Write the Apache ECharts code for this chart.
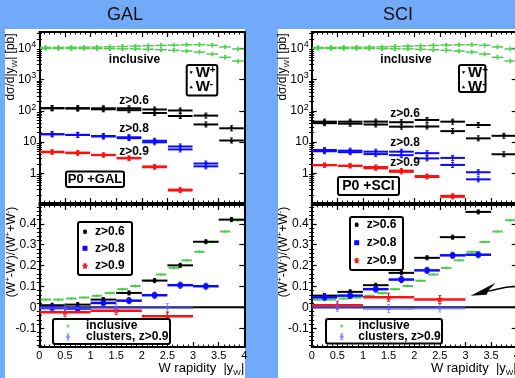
<!DOCTYPE html>
<html><head><meta charset="utf-8">
<script src="https://cdn.jsdelivr.net/npm/echarts@6/dist/echarts.min.js"></script>
<style>html,body{margin:0;padding:0;background:#70aaf8;overflow:hidden}#c{width:515px;height:378px}</style>
</head><body><div id="c"></div>
<script>
const FONT = '"Liberation Sans", Arial, Helvetica, sans-serif';

// ---------------- data ----------------
const edgesFine = [0,0.25,0.5,0.75,1,1.25,1.5,1.75,2,2.25,2.5,2.75,3,3.25,3.5,3.75,4];
const edgesHalf = [0,0.5,1,1.5,2,2.5,3,3.5,4];
const edgesOne  = [0,1,2,3];
const edgesFull = [0,4];

// inclusive (same in both panels)
const incWp = [10600,10600,10700,10800,10900,11100,11400,11700,12000,12300,12600,12900,13000,12500,11000,9500];
const incWm = [9850,9850,9830,9830,9770,9690,9580,9540,9300,8970,8590,8170,7540,6540,5140,3900];
const incA  = [0.037,0.037,0.042,0.047,0.055,0.068,0.087,0.102,0.127,0.157,0.189,0.225,0.266,0.313,0.363,0.417];

// GAL
const galZ06Wp = [122,121,120,120,110,102,70,27.5];
const galZ06Wm = [119.6,117.9,111.4,104.5,85,68,36.5,11.2];
const galZ08Wp = [17.7,16.8,15.6,14.2,11.0,7.2,2.05,null];
const galZ08Wm = [17.8,17.0,15.0,13.3,9.8,5.8,1.67,null];
const galZ09Wp = [4.7,4.4,3.8,3.0,1.56,0.28,null,null];
const galZ09Wm = [4.9,4.6,3.9,3.1,1.66,0.30,null,null];
const galZ06A = [0.010,0.013,0.037,0.069,0.128,0.201,0.314,0.420];
const galZ08A = [-0.003,-0.006,0.021,0.032,0.058,0.106,0.101,null];
const galZ09A = [-0.024,-0.016,-0.043];
const galClA  = [-0.003,-0.002,-0.001];

// SCI
const sciZ06Wp = [44.8,44.8,45,43,50.8,44.8,35.1,15.8];
const sciZ06Wm = [40.1,38.6,36.4,31,31.4,22.3,13.1,4.06];
const sciZ08Wp = [5.57,5.29,4.91,4.91,4.4,3.1,1.08,null];
const sciZ08Wm = [5.06,4.73,4.11,3.8,3.0,1.85,0.64,null];
const sciZ09Wp = [1.84,1.75,1.59,1.22,0.82,0.19,null,null];
const sciZ09Wm = [1.80,1.72,1.45,1.11,0.76,0.176,null,null];
const sciZ06A = [0.056,0.074,0.106,0.165,0.237,0.336,0.457,null];
const sciZ08A = [0.048,0.056,0.087,0.133,0.177,0.249,0.252,null];
const sciZ09A = [0.010,0.048,0.037];
const sciClA  = [0.000,-0.006,-0.003];

const zeroLine = [0];

// tick labels
const asymTicks = [-0.1,0,0.1,0.2,0.3,0.4];
const LOG_MIN = 0.112, LOG_MAX = 33100;
const ASYM_MIN = -0.19, ASYM_MAX = 0.49;

// ---------------- styling helpers ----------------
const K = '#000000', B = '#0a0aff', R = '#ff1010', G = '#4fcc4f', P = 'rgba(90,90,255,0.6)';

const asymMinor = [];
for (let i = -9; i <= 24; i++) { if (i % 5 !== 0) asymMinor.push(+(i * 0.02).toFixed(2)); }
const logMinor = [];
for (let d = -1; d <= 4; d++) for (let k = 2; k <= 9; k++) {
  const l = d + Math.log10(k);
  if (l > Math.log10(LOG_MIN) && l < Math.log10(LOG_MAX)) logMinor.push(l);
}

const grids = [
  {left: 39.3, top: 32, width: 205, height: 171},
  {left: 39.3, top: 205, width: 205, height: 142},
  {left: 311.7, top: 32, width: 205, height: 171},
  {left: 311.7, top: 205, width: 205, height: 142}
].map(g => Object.assign(g, {containLabel: false, outerBoundsMode: 'none'}));

const tickLS = {color: '#000', width: 1.2};
function xAx(gi, pos, labels) {
  return {type: 'value', gridIndex: gi, position: pos, min: 0, max: 4, interval: 0.5,
    axisLine: {show: true, onZero: false, lineStyle: {color: '#000', width: 2}},
    axisTick: {show: true, inside: true, length: 5, lineStyle: tickLS},
    minorTick: {show: true, splitNumber: 5, length: 2.5, lineStyle: {color: '#000', width: 1}},
    splitLine: {show: false}, minorSplitLine: {show: false},
    axisLabel: {show: labels, fontSize: 11, color: '#000', margin: 3, fontFamily: FONT,
      showMinLabel: true, showMaxLabel: true, hideOverlap: false},
    axisPointer: {show: false}, silent: true};
}
function yLog(gi, pos, labels) {
  return {type: 'log', logBase: 10, gridIndex: gi, position: pos, min: LOG_MIN, max: LOG_MAX,
    axisLine: {show: true, onZero: false, lineStyle: {color: '#000', width: 2}},
    axisTick: {show: true, inside: true, length: 5, lineStyle: tickLS},
    splitLine: {show: false}, minorTick: {show: false},
    axisLabel: {show: labels, showMinLabel: false, showMaxLabel: false, margin: 3, hideOverlap: false,
      formatter: v => { const e = Math.round(Math.log10(v)); if (e === 0) return '{b|1}'; if (e === 1) return '{b|10}'; return '{b|10}{p|' + e + '}'; },
      rich: {b: {fontSize: 12, color: '#000', fontFamily: FONT, lineHeight: 16},
             p: {fontSize: 9, color: '#000', fontFamily: FONT, lineHeight: 9, verticalAlign: 'top'}}},
    axisPointer: {show: false}, silent: true};
}
function yLogMinor(gi, pos) {
  return {type: 'value', gridIndex: gi, position: pos, min: Math.log10(LOG_MIN), max: Math.log10(LOG_MAX),
    axisLine: {show: false}, axisLabel: {show: false}, splitLine: {show: false},
    axisTick: {show: true, inside: true, length: 2.5, customValues: logMinor, lineStyle: {color: '#000', width: 1}},
    axisPointer: {show: false}, silent: true};
}
function yLin(gi, pos, labels) {
  return {type: 'value', gridIndex: gi, position: pos, min: ASYM_MIN, max: ASYM_MAX,
    axisLine: {show: true, onZero: false, lineStyle: {color: '#000', width: 2}},
    axisTick: {show: true, inside: true, length: 5, customValues: asymTicks, lineStyle: tickLS},
    splitLine: {show: false},
    axisLabel: {show: labels, customValues: asymTicks, fontSize: 12, color: '#000', margin: 3, fontFamily: FONT, hideOverlap: false},
    axisPointer: {show: false}, silent: true};
}
function yLinMinor(gi, pos) {
  return {type: 'value', gridIndex: gi, position: pos, min: ASYM_MIN, max: ASYM_MAX,
    axisLine: {show: false}, axisLabel: {show: false}, splitLine: {show: false},
    axisTick: {show: true, inside: true, length: 2.5, customValues: asymMinor, lineStyle: {color: '#000', width: 1}},
    axisPointer: {show: false}, silent: true};
}

const xAxis = [], yAxis = [], axIdx = [];
grids.forEach((g, gi) => {
  const isTop = gi % 2 === 0;
  const xi = xAxis.length;
  xAxis.push(xAx(gi, 'bottom', !isTop));
  xAxis.push(xAx(gi, 'top', false));
  const yi = yAxis.length;
  if (isTop) {
    yAxis.push(yLog(gi, 'left', true), yLogMinor(gi, 'left'), yLog(gi, 'right', false), yLogMinor(gi, 'right'));
  } else {
    yAxis.push(yLin(gi, 'left', true), yLinMinor(gi, 'left'), yLin(gi, 'right', false), yLinMinor(gi, 'right'));
  }
  axIdx.push({x: xi, y: yi});
});

function starPts(cx, cy, r) {
  const pts = [];
  for (let i = 0; i < 10; i++) {
    const rr = i % 2 ? r * 0.45 : r;
    const a = -Math.PI / 2 + i * Math.PI / 5;
    pts.push([cx + rr * Math.cos(a), cy + rr * Math.sin(a)]);
  }
  return pts;
}
function marker(kind, cx, cy, s, color) {
  switch (kind) {
    case 'tdown': return {type: 'polygon', shape: {points: [[cx - s, cy - s * 0.8], [cx + s, cy - s * 0.8], [cx, cy + s * 0.9]]}, style: {fill: color}};
    case 'tup': return {type: 'polygon', shape: {points: [[cx - s, cy + s * 0.8], [cx + s, cy + s * 0.8], [cx, cy - s * 0.9]]}, style: {fill: color}};
    case 'circle': return {type: 'circle', shape: {cx: cx, cy: cy, r: s}, style: {fill: color}};
    case 'square': return {type: 'rect', shape: {x: cx - s, y: cy - s, width: 2 * s, height: 2 * s}, style: {fill: color}};
    case 'star': return {type: 'polygon', shape: {points: starPts(cx, cy, s)}, style: {fill: color}};
    case 'diamond': return {type: 'polygon', shape: {points: [[cx - s, cy], [cx, cy - s], [cx + s, cy], [cx, cy + s]]}, style: {fill: color}};
    case 'plus': return {type: 'group', children: [
      {type: 'line', shape: {x1: cx - s, y1: cy, x2: cx + s, y2: cy}, style: {stroke: color, lineWidth: 1}},
      {type: 'line', shape: {x1: cx, y1: cy - s, x2: cx, y2: cy + s}, style: {stroke: color, lineWidth: 1}}]};
  }
  return {type: 'group', children: []};
}
function errbar(cx, cy, e, color, cap) {
  const c = cap === undefined ? 1.5 : cap;
  return {type: 'group', children: [
    {type: 'line', shape: {x1: cx, y1: cy - e, x2: cx, y2: cy + e}, style: {stroke: color, lineWidth: 1}},
    {type: 'line', shape: {x1: cx - c, y1: cy - e, x2: cx + c, y2: cy - e}, style: {stroke: color, lineWidth: 1}},
    {type: 'line', shape: {x1: cx - c, y1: cy + e, x2: cx + c, y2: cy + e}, style: {stroke: color, lineWidth: 1}}]};
}
function bins(gi, edges, vals, st) {
  const data = [];
  vals.forEach((v, i) => { if (v !== null) data.push([edges[i], edges[i + 1], v]); });
  return {type: 'custom', xAxisIndex: axIdx[gi].x, yAxisIndex: axIdx[gi].y, data: data,
    encode: {x: [0, 1], y: 2}, silent: true, z: st.z || 3,
    renderItem: function (params, api) {
      const a = api.coord([api.value(0), api.value(2)]);
      const b = api.coord([api.value(1), api.value(2)]);
      const cx = (a[0] + b[0]) / 2, cy = a[1], g = st.gap || 0;
      const ch = [{type: 'line', shape: {x1: a[0] + g, y1: cy, x2: b[0] - g, y2: cy},
        style: {stroke: st.color, lineWidth: st.lw}}];
      if (st.err) ch.push(errbar(cx, cy, st.err, st.color, st.cap));
      if (st.marker) ch.push(marker(st.marker, cx, cy, st.msize, st.color));
      return {type: 'group', children: ch};
    }};
}

function topSeries(gi, z6p, z6m, z8p, z8m, z9p, z9m) {
  return [
    bins(gi, edgesFine, incWp, {color: G, lw: 1.5, gap: 0.6, marker: 'tdown', msize: 1.3, err: 1.8, cap: 1}),
    bins(gi, edgesFine, incWm, {color: G, lw: 1.5, gap: 0.6, marker: 'tup', msize: 1.3, err: 1.8, cap: 1}),
    bins(gi, edgesHalf, z6p, {color: K, lw: 2, gap: 0.5, marker: 'tdown', msize: 1.8, err: 2.5}),
    bins(gi, edgesHalf, z6m, {color: K, lw: 2, gap: 0.5, marker: 'tup', msize: 1.8, err: 2.5}),
    bins(gi, edgesHalf, z8p, {color: B, lw: 2, gap: 0.5, marker: 'tdown', msize: 1.8, err: 2.5}),
    bins(gi, edgesHalf, z8m, {color: B, lw: 2, gap: 0.5, marker: 'tup', msize: 1.8, err: 2.5}),
    bins(gi, edgesHalf, z9p, {color: R, lw: 2, gap: 0.5, marker: 'tdown', msize: 1.8, err: 2}),
    bins(gi, edgesHalf, z9m, {color: R, lw: 2, gap: 0.5, marker: 'tup', msize: 1.8, err: 2})
  ];
}
function botSeries(gi, a6, a8, a9, acl) {
  return [
    bins(gi, edgesFull, zeroLine, {color: K, lw: 2}),
    bins(gi, edgesFine, incA, {color: G, lw: 2, gap: 1.2, marker: 'plus', msize: 1.6}),
    bins(gi, edgesHalf, a6, {color: K, lw: 2, marker: 'circle', msize: 2, err: 2}),
    bins(gi, edgesHalf, a8, {color: B, lw: 2.5, marker: 'square', msize: 2.5, err: 3}),
    bins(gi, edgesOne, a9, {color: R, lw: 2.5, marker: 'star', msize: 3.5, err: 4}),
    bins(gi, edgesOne, acl, {color: P, lw: 3, marker: 'diamond', msize: 2.5, err: 4})
  ];
}

const series = [].concat(
  topSeries(0, galZ06Wp, galZ06Wm, galZ08Wp, galZ08Wm, galZ09Wp, galZ09Wm),
  botSeries(1, galZ06A, galZ08A, galZ09A, galClA),
  topSeries(2, sciZ06Wp, sciZ06Wm, sciZ08Wp, sciZ08Wm, sciZ09Wp, sciZ09Wm),
  botSeries(3, sciZ06A, sciZ08A, sciZ09A, sciClA)
);

// ---------------- annotations ----------------
const richA = {
  a: {fontSize: 12, fontFamily: FONT, fill: '#000', lineHeight: 16},
  s: {fontSize: 8, fontFamily: FONT, fill: '#000', lineHeight: 8, verticalAlign: 'bottom'},
  p: {fontSize: 8, fontFamily: FONT, fill: '#000', lineHeight: 8, verticalAlign: 'top'},
  x: {fontSize: 13, fontFamily: FONT, fill: '#000', lineHeight: 17},
  w: {fontSize: 15, fontFamily: FONT, fontWeight: 'bold', fill: '#000', lineHeight: 16},
  q: {fontSize: 10, fontFamily: FONT, fontWeight: 'bold', fill: '#000', lineHeight: 9, verticalAlign: 'top'}
};
function setZ(el, z) {
  el.z = z;
  if (el.children) el.children.forEach(c => setZ(c, z));
  return el;
}
function txt(x, y, text, size, opts) {
  opts = opts || {};
  return {type: 'text', x: x, y: y, rotation: opts.rot || 0, z: 102,
    style: {text: text, fontSize: size, fontFamily: FONT, fontWeight: opts.bold ? 'bold' : 'normal',
      fill: opts.color || '#000', align: opts.align || 'center', verticalAlign: 'middle', rich: richA}};
}
function box(x, y, w, h) {
  return {type: 'rect', z: 100, shape: {x: x, y: y, width: w, height: h, r: 2},
    style: {fill: '#fff', stroke: '#000', lineWidth: 2}};
}
function gm(kind, cx, cy, s, color, err) {
  const els = [];
  if (err) els.push(errbar(cx, cy, err, color));
  els.push(marker(kind, cx, cy, s, color));
  return setZ({type: 'group', children: els}, 101);
}
const yLabTop = '{a|dσ/d|y}{s|W}{a|| [pb]}';
const yLabBot = '{a|(W}{p|+}{a|-W}{p|-}{a|)/(W}{p|+}{a|+W}{p|-}{a|)}';
const xLab = '{x|W rapidity  |y}{s|W}{x||}';

function panelGraphics(o) {
  return [
    {type: 'rect', z: -10, shape: {x: o.bgx, y: 29, width: 240, height: 349}, style: {fill: '#fff'}},
    txt(o.tx, 15, o.title, 18, {color: '#111'}),
    txt(o.yl, 67, yLabTop, 12, {rot: Math.PI / 2}),
    txt(o.yl + 1, 252, yLabBot, 12, {rot: Math.PI / 2}),
    txt(o.xr, 368, xLab, 13, {align: 'right'}),
    txt(o.inc[0], o.inc[1], 'inclusive', 12, {bold: true}),
    txt(o.z6[0], o.z6[1], 'z>0.6', 12, {bold: true}),
    txt(o.z8[0], o.z8[1], 'z>0.8', 12, {bold: true}),
    txt(o.z9[0], o.z9[1], 'z>0.9', 12, {bold: true}),
    // W+/W- box
    box(o.wb[0], o.wb[1], o.wb[2], o.wb[3]),
    gm('tdown', o.wb[0] + 4.5, o.wb[1] + 7.5, 1.7, '#000'),
    gm('tup', o.wb[0] + 4.5, o.wb[1] + 22, 1.7, '#000'),
    txt(o.wb[0] + 9, o.wb[1] + 8, '{w|W}{q|+}', 15, {align: 'left', bold: true}),
    txt(o.wb[0] + 9, o.wb[1] + 22, '{w|W}{q|-}', 15, {align: 'left', bold: true}),
    // P0 box
    box(o.pb[0], o.pb[1], o.pb[2], o.pb[3]),
    txt(o.pb[0] + o.pb[2] / 2, o.pb[1] + o.pb[3] / 2 + 0.5, o.ptxt, o.psize, {bold: true}),
    // bottom legend 1
    box(o.l1[0], o.l1[1], o.l1[2], o.l1[3]),
    gm('circle', o.l1m, o.l1r[0], 2, K, 1.5),
    gm('square', o.l1m, o.l1r[1], 2.5, B),
    gm('star', o.l1m, o.l1r[2], 3.5, R, 2),
    txt(o.l1t, o.l1r[0], 'z>0.6', 12, {bold: true, align: 'left'}),
    txt(o.l1t, o.l1r[1], 'z>0.8', 12, {bold: true, align: 'left'}),
    txt(o.l1t, o.l1r[2], 'z>0.9', 12, {bold: true, align: 'left'}),
    // bottom legend 2
    box(o.l2[0], o.l2[1], o.l2[2], o.l2[3]),
    gm('plus', o.l2m, o.l2r[0], 1.8, G),
    gm('diamond', o.l2m, o.l2r[1], 2.5, P, 3),
    txt(o.l2t, o.l2r[0], 'inclusive', 12, {bold: true, align: 'left'}),
    txt(o.l2t, o.l2r[1], 'clusters, z>0.9', 12, {bold: true, align: 'left'})
  ];
}

const gal = {bgx: 5, tx: 125, title: 'GAL', yl: 11, xr: 244.3,
  inc: [134.5, 60], z6: [134, 101], z8: [134, 129], z9: [134, 152],
  wb: [186.7, 65, 30.6, 30.5], pb: [66, 171.5, 58, 15.5], ptxt: 'P0 +GAL', psize: 13,
  l1: [78, 222, 54, 53], l1m: 85, l1t: 95, l1r: [231.7, 248.3, 266],
  l2: [53, 319, 117, 25], l2m: 68, l2t: 86, l2r: [326, 337]};
const sci = {bgx: 278, tx: 398, title: 'SCI', yl: 283, xr: 516.7,
  inc: [406, 60], z6: [405, 114], z8: [405, 143], z9: [405, 163],
  wb: [459, 65, 26.5, 27], pb: [338, 177, 61, 18], ptxt: 'P0 +SCI', psize: 14,
  l1: [350, 217, 53, 53], l1m: 356.7, l1t: 366.7, l1r: [224.7, 242.7, 260.7],
  l2: [326, 319, 116, 24.5], l2m: 341.7, l2t: 358.3, l2r: [326, 336.7]};

const chart = echarts.init(document.getElementById('c'), null, {renderer: 'canvas', width: 515, height: 378});
chart.setOption({
  animation: false,
  backgroundColor: '#70aaf8',
  textStyle: {fontFamily: FONT},
  grid: grids, xAxis: xAxis, yAxis: yAxis, series: series
});

// arrow annotation in SCI lower panel, placed in data coordinates
const tip = chart.convertToPixel({xAxisIndex: axIdx[3].x, yAxisIndex: axIdx[3].y}, [3.1, 0.056]);
const tail = chart.convertToPixel({xAxisIndex: axIdx[3].x, yAxisIndex: axIdx[3].y}, [4.05, 0.1]);
const arrow = [
  {type: 'polygon', z: 101, shape: {points: [tip, [tip[0] + 25, tip[1] - 13], [tip[0] + 18, tip[1] - 5.5], [tip[0] + 16, tip[1] - 1]]}, style: {fill: '#000'}},
  {type: 'bezierCurve', z: 101, shape: {x1: tip[0] + 17, y1: tip[1] - 4.5, cpx1: tip[0] + 30, cpy1: tip[1] - 7, cpx2: tail[0] - 15, cpy2: tail[1], x2: tail[0], y2: tail[1]},
    style: {stroke: '#000', lineWidth: 1.5, fill: null}}
];

chart.setOption({graphic: [].concat(panelGraphics(gal), panelGraphics(sci), arrow)});
</script></body></html>
